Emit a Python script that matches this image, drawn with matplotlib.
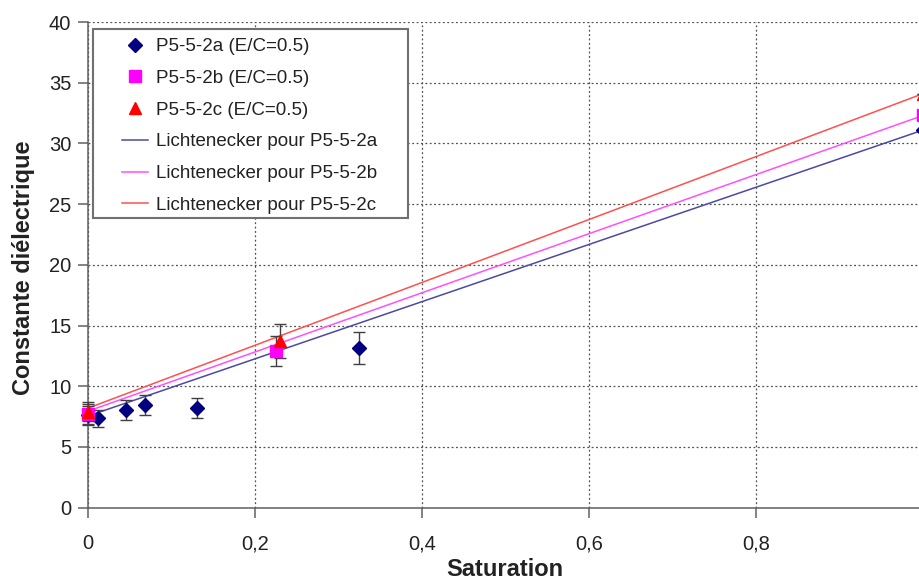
import numpy as np
import matplotlib
matplotlib.use('Agg')
import matplotlib.pyplot as plt
from matplotlib.patches import Rectangle

plt.rcParams['font.family'] = ['Liberation Sans', 'DejaVu Sans']

# ---- données ----
sat_a = [0.0, 0.012, 0.045, 0.068, 0.130, 0.325, 1.0]
eps_a = [7.6, 7.35, 8.05, 8.45, 8.2, 13.15, 31.1]
err_a = [0.75, 0.7, 0.8, 0.85, 0.8, 1.3, 0.0]

sat_b = [0.0, 0.225, 1.0]
eps_b = [7.7, 12.9, 32.3]
err_b = [0.8, 1.25, 0.0]

sat_c = [0.0, 0.230, 1.0]
eps_c = [7.9, 13.7, 34.1]
err_c = [0.8, 1.4, 0.0]

# modèle de Lichtenecker (lu aux points 0 / 0.4 / 1)
sat_mod = [0.0, 0.4, 1.0]
mod_a = [7.55, 16.97, 31.1]
mod_b = [7.95, 17.7, 32.3]
mod_c = [8.2, 18.55, 34.1]

labels_pts = ['P5-5-2a (E/C=0.5)', 'P5-5-2b (E/C=0.5)', 'P5-5-2c (E/C=0.5)']
labels_mod = ['Lichtenecker pour P5-5-2a', 'Lichtenecker pour P5-5-2b',
              'Lichtenecker pour P5-5-2c']
xticks = [0, 0.2, 0.4, 0.6, 0.8, 1.0]
xtick_labels = ['0', '0,2', '0,4', '0,6', '0,8', '1']
yticks = [0, 5, 10, 15, 20, 25, 30, 35, 40]

W, H = 920, 581
fig = plt.figure(figsize=(W / 100, H / 100), dpi=100)
ax = fig.add_axes([88 / W, (H - 507.7) / H, 835 / W, 485.7 / H])

# grille pointillée
ax.grid(True, color='#505050', lw=0.9, ls=(0, (1.5, 2.0)))
ax.set_axisbelow(True)

# courbes du modèle
mod_lines = []
for ys, col in zip([mod_a, mod_b, mod_c], ['#4a4aa6', '#ff50ff', '#ff5050']):
    ln, = ax.plot(sat_mod, ys, color=col, lw=1.1, zorder=3)
    mod_lines.append(ln)

# points de mesure avec barres d'erreur
pt_handles = []
styles = [('D', '#000080', 7.0), ('s', '#ff00ff', 8.5), ('^', '#ff0000', 9.0)]
for (xs, ys, es), (mk, col, ms) in zip(
        [(sat_a, eps_a, err_a), (sat_b, eps_b, err_b), (sat_c, eps_c, err_c)],
        styles):
    eb = ax.errorbar(xs, ys, yerr=es, fmt=mk, color=col, ms=ms, mec=col,
                     ecolor='#404040', elinewidth=1.0, capsize=4,
                     capthick=1.0, zorder=4, clip_on=False)
    pt_handles.append(eb[0])

ax.set_xlim(0, 1)
ax.set_ylim(0, 40)
ax.set_xticks(xticks)
ax.set_xticklabels(xtick_labels)
ax.set_yticks(yticks)
ax.tick_params(axis='both', direction='out', length=7, width=1.1,
               color='#606060', labelsize=14.5, labelcolor='#222222')
ax.tick_params(axis='x', pad=12)
ax.tick_params(axis='y', pad=5)
for side in ['top', 'right']:
    ax.spines[side].set_visible(False)
for side in ['left', 'bottom']:
    ax.spines[side].set_color('#606060')
    ax.spines[side].set_linewidth(1.1)

fig.text(505 / W, 1 - 570 / H, 'Saturation', ha='center', va='center',
         fontsize=17, fontweight='bold', color='#222222')
fig.text(24 / W, 1 - 268 / H, 'Constante diélectrique', ha='center',
         va='center', rotation=90, fontsize=17, fontweight='bold',
         color='#222222')

# légende (cadre dessiné à part, dans l'axe)
box = Rectangle((93 / W, 1 - 218 / H), (408 - 93) / W, (218 - 29) / H,
                transform=fig.transFigure, facecolor='white',
                edgecolor='#707070', lw=1.5, zorder=5, clip_on=False)
ax.add_patch(box)
leg = ax.legend(pt_handles + mod_lines, labels_pts + labels_mod,
                loc='upper left', bbox_to_anchor=(122 / W, 1 - 38 / H),
                bbox_transform=fig.transFigure, frameon=False,
                borderpad=0, borderaxespad=0, fontsize=13.5,
                handlelength=1.4, handletextpad=0.4, labelspacing=0.78,
                numpoints=1)
for t in leg.get_texts():
    t.set_color('#222222')
leg.set_zorder(6)

fig.savefig('out.png', dpi=100)
